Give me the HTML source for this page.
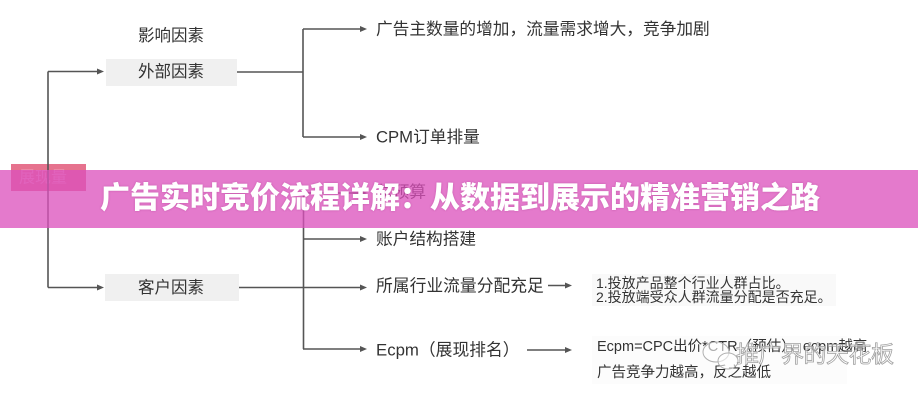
<!DOCTYPE html>
<html>
<head>
<meta charset="utf-8">
<style>
html,body{margin:0;padding:0;background:#fff;}
body{width:918px;height:400px;overflow:hidden;position:relative;font-family:"Liberation Sans","Noto Sans CJK SC",sans-serif;}
svg{position:absolute;left:0;top:0;}
.t{font-family:"Liberation Sans","Noto Sans CJK SC",sans-serif;fill:#333;}
.title{position:absolute;left:0;top:170px;width:918px;height:58px;background:rgba(220,80,188,0.76);}
.title span{position:absolute;left:100px;top:12px;font-family:"Liberation Sans","Noto Sans CJK SC",sans-serif;font-weight:900;font-size:30px;line-height:34px;color:#fff;white-space:nowrap;text-shadow:0 0 2px rgba(150,40,120,0.4);}
.wm{position:absolute;left:736px;top:340px;font-family:"Liberation Sans","Noto Sans CJK SC",sans-serif;font-size:23px;line-height:28px;color:rgba(255,255,255,0.5);-webkit-text-stroke:0.8px #a0a0a0;white-space:nowrap;letter-spacing:-0.5px;}
</style>
</head>
<body>
<svg width="918" height="400" viewBox="0 0 918 400" xmlns="http://www.w3.org/2000/svg">
  <!-- boxes -->
  <rect x="106" y="59" width="131" height="27" fill="#f0f0f0"/>
  <rect x="105" y="274" width="134" height="27" fill="#f0f0f0"/>
  <rect x="592" y="274" width="244" height="32" fill="#f9f9f9"/>
  <rect x="592" y="336" width="255" height="48" fill="#fcfcfc"/>
  <!-- 展现量 box -->
  <rect x="11" y="164" width="75" height="27" fill="#e6728e"/>
  <text class="t" x="19" y="178" font-size="16" dominant-baseline="central" style="fill:#f3a0c0">展现量</text>

  <g stroke="#555" stroke-width="1.6" fill="none">
    <!-- left trunk -->
    <line x1="48" y1="71.5" x2="48" y2="287.5"/>
    <line x1="48" y1="71.5" x2="98" y2="71.5"/>
    <line x1="48" y1="287.5" x2="98" y2="287.5"/>
    <!-- upper group -->
    <line x1="237" y1="72" x2="303" y2="72"/>
    <line x1="303" y1="29" x2="303" y2="137"/>
    <line x1="303" y1="29" x2="361" y2="29"/>
    <line x1="303" y1="137" x2="361" y2="137"/>
    <!-- lower group -->
    <line x1="239" y1="287.5" x2="303" y2="287.5"/>
    <line x1="303.5" y1="193" x2="303.5" y2="349"/>
    <line x1="303" y1="193" x2="361" y2="193"/>
    <line x1="303" y1="239" x2="361" y2="239"/>
    <line x1="303" y1="287.5" x2="361" y2="287.5"/>
    <line x1="303" y1="349" x2="361" y2="349"/>
    <!-- short arrows -->
    <line x1="548" y1="285.5" x2="566" y2="285.5"/>
    <line x1="527" y1="350" x2="566" y2="350"/>
  </g>
  <g fill="#555">
    <polygon points="104,71.5 97,68.5 97,74.5"/>
    <polygon points="104,287.5 97,284.5 97,290.5"/>
    <polygon points="367,29 360,26 360,32"/>
    <polygon points="367,137 360,134 360,140"/>
    <polygon points="367,193 360,190 360,196"/>
    <polygon points="367,239 360,236 360,242"/>
    <polygon points="367,287.5 360,284.5 360,290.5"/>
    <polygon points="367,349 360,346 360,352"/>
    <polygon points="572,285.5 565,282.5 565,288.5"/>
    <polygon points="572,350 565,347 565,353"/>
  </g>

  <!-- labels -->
  <text class="t" x="171" y="36" font-size="16.5" text-anchor="middle" dominant-baseline="central">影响因素</text>
  <text class="t" x="171" y="72" font-size="16.5" text-anchor="middle" dominant-baseline="central">外部因素</text>
  <text class="t" x="171" y="288" font-size="16.5" text-anchor="middle" dominant-baseline="central">客户因素</text>

  <text class="t" x="376" y="29" font-size="16.7" dominant-baseline="central">广告主数量的增加，流量需求增大，竞争加剧</text>
  <text class="t" x="376" y="137" font-size="16.7" dominant-baseline="central">CPM订单排量</text>
  <text class="t" x="376" y="192" font-size="16.7" dominant-baseline="central">总预算</text>
  <text class="t" x="376" y="239" font-size="16.7" dominant-baseline="central">账户结构搭建</text>
  <text class="t" x="376" y="286" font-size="16.8" dominant-baseline="central">所属行业流量分配充足</text>
  <text class="t" x="376" y="350" font-size="16.8" dominant-baseline="central">Ecpm（展现排名）</text>

  <text class="t" x="596" y="283" font-size="14" dominant-baseline="central">1.投放产品整个行业人群占比。</text>
  <text class="t" x="596" y="297" font-size="14" dominant-baseline="central">2.投放端受众人群流量分配是否充足。</text>
  <text class="t" x="597" y="347" font-size="14.5" dominant-baseline="central">Ecpm=CPC出价*CTR（预估），ecpm越高</text>
  <text class="t" x="597" y="373" font-size="14.5" dominant-baseline="central">广告竞争力越高，反之越低</text>

  <!-- wechat-like watermark icon -->
  <g fill="rgba(255,255,255,0.6)" stroke="#b0b0b0" stroke-width="1">
    <ellipse cx="716" cy="352" rx="13" ry="10"/>
    <ellipse cx="728" cy="361" rx="10" ry="8"/>
  </g>
</svg>

<div class="title"><span>广告实时竞价流程详解：从数据到展示的精准营销之路</span></div>
<div class="wm">推广界的天花板</div>
</body>
</html>
